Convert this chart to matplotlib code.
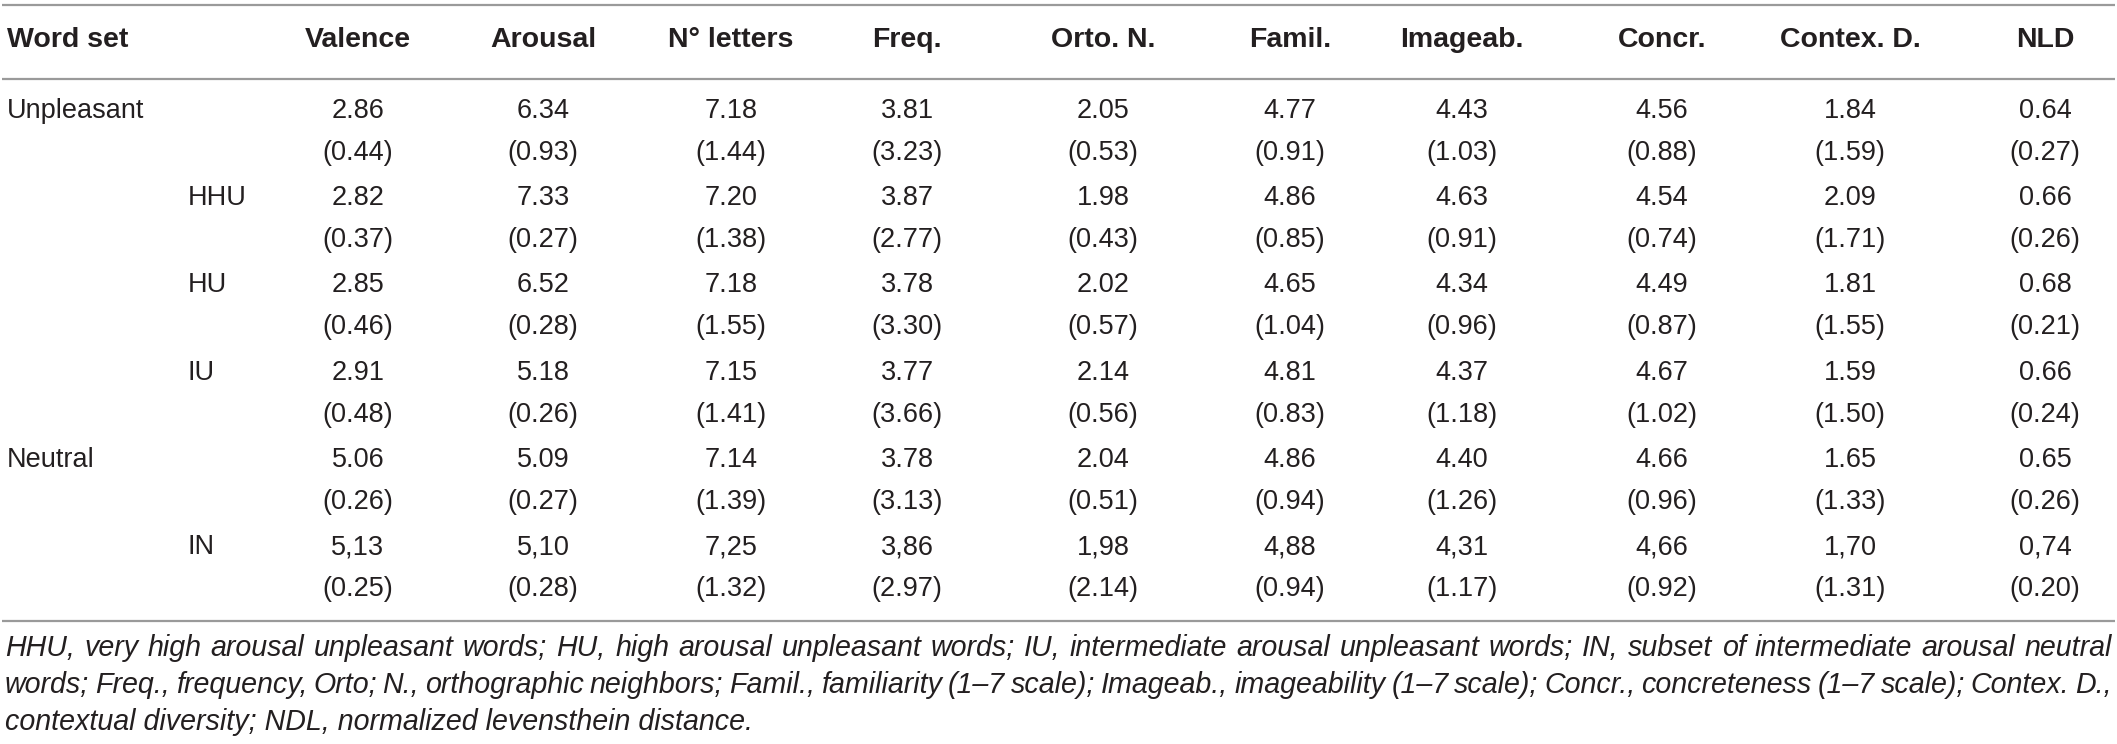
import matplotlib
matplotlib.use("Agg")
import matplotlib.pyplot as plt

# table content
columns = ["Valence", "Arousal", "N\u00b0 letters", "Freq.", "Orto. N.",
           "Famil.", "Imageab.", "Concr.", "Contex. D.", "NLD"]
row_labels = ["Unpleasant", "HHU", "HU", "IU", "Neutral", "IN"]
row_is_subset = [False, True, True, True, False, True]
# the IN row uses decimal commas in the source table
row_decimal = [".", ".", ".", ".", ".", ","]

means = [
    [2.86, 6.34, 7.18, 3.81, 2.05, 4.77, 4.43, 4.56, 1.84, 0.64],
    [2.82, 7.33, 7.20, 3.87, 1.98, 4.86, 4.63, 4.54, 2.09, 0.66],
    [2.85, 6.52, 7.18, 3.78, 2.02, 4.65, 4.34, 4.49, 1.81, 0.68],
    [2.91, 5.18, 7.15, 3.77, 2.14, 4.81, 4.37, 4.67, 1.59, 0.66],
    [5.06, 5.09, 7.14, 3.78, 2.04, 4.86, 4.40, 4.66, 1.65, 0.65],
    [5.13, 5.10, 7.25, 3.86, 1.98, 4.88, 4.31, 4.66, 1.70, 0.74],
]
sds = [
    [0.44, 0.93, 1.44, 3.23, 0.53, 0.91, 1.03, 0.88, 1.59, 0.27],
    [0.37, 0.27, 1.38, 2.77, 0.43, 0.85, 0.91, 0.74, 1.71, 0.26],
    [0.46, 0.28, 1.55, 3.30, 0.57, 1.04, 0.96, 0.87, 1.55, 0.21],
    [0.48, 0.26, 1.41, 3.66, 0.56, 0.83, 1.18, 1.02, 1.50, 0.24],
    [0.26, 0.27, 1.39, 3.13, 0.51, 0.94, 1.26, 0.96, 1.33, 0.26],
    [0.25, 0.28, 1.32, 2.97, 2.14, 0.94, 1.17, 0.92, 1.31, 0.20],
]

footnote = [
    "HHU, very high arousal unpleasant words; HU, high arousal unpleasant words; IU, intermediate arousal unpleasant words; IN, subset of intermediate arousal neutral",
    "words; Freq., frequency, Orto; N., orthographic neighbors; Famil., familiarity (1\u20137 scale); Imageab., imageability (1\u20137 scale); Concr., concreteness (1\u20137 scale); Contex. D.,",
    "contextual diversity; NDL, normalized levensthein distance.",
]

# layout (pixel coordinates)
W, H = 2117, 744
col_x = [358, 543, 731, 907, 1103, 1290, 1462, 1662, 1850, 2045]
label_x, sub_x = 7, 188
header_y = 40
first_row_y, row_step, sd_offset = 111, 87.2, 42
rule_ys = [5, 79, 621]
foot_y0, foot_step = 648, 37

txt_color = "#231f20"
rule_color = "#9a9a9a"
font = "Liberation Sans"
head_size, body_size = 20.5, 19.5

fig = plt.figure(figsize=(W / 100, H / 100), dpi=100)
ax = fig.add_axes([0, 0, 1, 1])
ax.set_xlim(0, W)
ax.set_ylim(H, 0)
ax.axis("off")

for y in rule_ys:
    ax.plot([2, W - 2], [y, y], color=rule_color, lw=1.6, solid_capstyle="butt")

ax.text(label_x, header_y, "Word set", fontsize=head_size, fontweight="bold",
        family=font, color=txt_color, ha="left", va="center")
for cx, name in zip(col_x, columns):
    ax.text(cx, header_y, name, fontsize=head_size, fontweight="bold", family=font,
            color=txt_color, ha="center", va="center")

for i, label in enumerate(row_labels):
    y = first_row_y + i * row_step
    ax.text(sub_x if row_is_subset[i] else label_x, y, label, fontsize=body_size,
            family=font, color=txt_color, ha="left", va="center")
    for j, cx in enumerate(col_x):
        m = f"{means[i][j]:.2f}".replace(".", row_decimal[i])
        ax.text(cx, y, m, fontsize=body_size, family=font, color=txt_color,
                ha="center", va="center")
        ax.text(cx, y + sd_offset, f"({sds[i][j]:.2f})", fontsize=body_size,
                family=font, color=txt_color, ha="center", va="center")

# justified italic footnote; size chosen so the first line fills the width
fig.canvas.draw()
renderer = fig.canvas.get_renderer()
left, right = 5, W - 5
probe = ax.text(0, 0, footnote[0], fontsize=17, style="italic", family=font)
foot_size = 17 * (right - left) / probe.get_window_extent(renderer).width * 0.99
probe.remove()

for k, line in enumerate(footnote):
    y = foot_y0 + k * foot_step
    words = line.split(" ")
    if k == len(footnote) - 1:
        ax.text(left, y, line, fontsize=foot_size, style="italic", family=font,
                color=txt_color, ha="left", va="center")
        continue
    artists, widths = [], []
    for w in words:
        t = ax.text(0, y, w, fontsize=foot_size, style="italic", family=font,
                    color=txt_color, ha="left", va="center")
        widths.append(t.get_window_extent(renderer).width)
        artists.append(t)
    gap = (right - left - sum(widths)) / (len(words) - 1)
    x = left
    for t, wd in zip(artists, widths):
        t.set_x(x)
        x += wd + gap

fig.savefig("out.png", dpi=100)
